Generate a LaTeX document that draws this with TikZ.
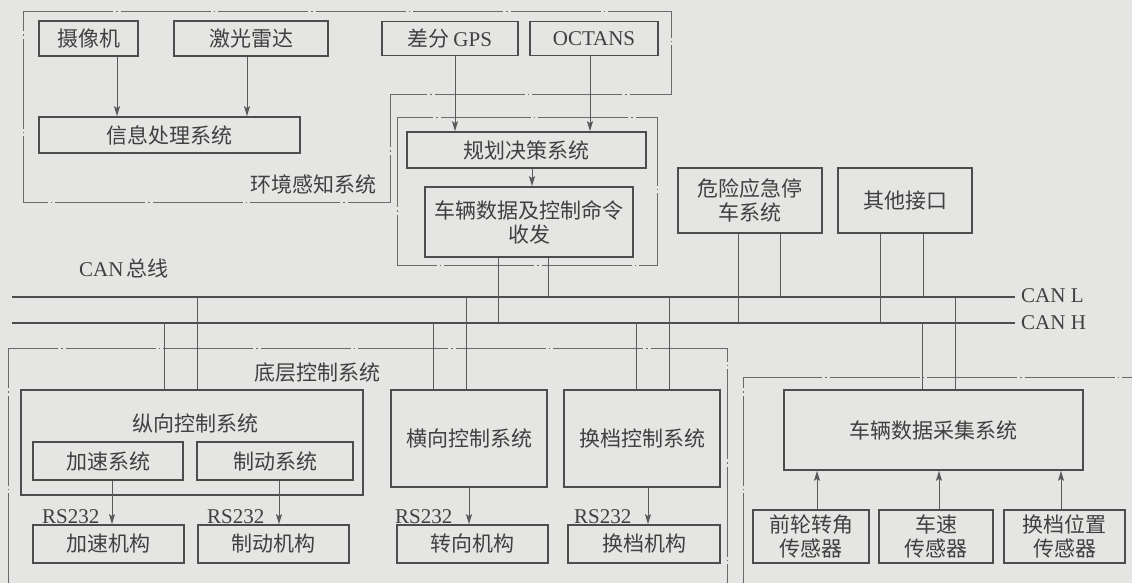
\documentclass[tikz,border=0pt]{standalone}
\usepackage{fontspec}
\setmainfont{Liberation Serif}
\newfontfamily\cjk{Noto Sans CJK SC}
\usetikzlibrary{arrows.meta}
\definecolor{bgc}{HTML}{E5E5E3}
\definecolor{boxc}{HTML}{4D4D4D}
\definecolor{linec}{HTML}{5A5A5A}
\definecolor{framec}{HTML}{6A6A6A}
\definecolor{txtc}{HTML}{404040}
\tikzset{
 box/.style={draw=boxc, line width=1.7pt, inner sep=0pt, align=center, text=txtc, font=\fontsize{21}{24}\selectfont\cjk},
 lbl/.style={inner sep=0pt, text=txtc, font=\fontsize{21}{24}\selectfont\cjk},
 latn/.style={inner sep=0pt, text=txtc, font=\fontsize{21}{23}\selectfont\rmfamily},
 conn/.style={draw=linec, line width=1pt},
 arr/.style={conn, -{Stealth[length=10pt,width=6pt,inset=2pt]}},
 bus/.style={draw=boxc, line width=1.7pt},
 frm/.style={draw=framec, line width=0.9pt, dash pattern=on 90pt off 3pt on 1.5pt off 3pt},
}
\begin{document}
\begin{tikzpicture}[x=1pt,y=-1pt]
\fill[bgc] (0,0) rectangle (1132,583);
\useasboundingbox (0,0) rectangle (1132,583);

% frames
\draw[frm] (23,11) -- (671,11) -- (671,94) -- (390,94) -- (390,202) -- (23,202) -- cycle;
\draw[frm] (397,117) rectangle (657,265);
\draw[frm] (8,583) -- (8,348) -- (727,348) -- (727,583);
\draw[frm] (743,583) -- (743,377) -- (1132,377);

% top row
\node[box, minimum width=99pt, minimum height=35pt] (cam) at (88.5,38.5) {摄像机};
\node[box, minimum width=154pt, minimum height=35pt] (lidar) at (251,38.5) {激光雷达};
\node[box, minimum width=136pt, minimum height=34pt] (gps) at (450,38.5) {差分\,{\rmfamily\fontsize{21}{23}\selectfont GPS}};
\node[box, minimum width=128pt, minimum height=34pt, font=\fontsize{21}{23}\selectfont\rmfamily] (octans) at (594,38.5) {OCTANS};
\node[box, minimum width=261pt, minimum height=36pt] (info) at (169.5,135) {信息处理系统};
\node[box, minimum width=239pt, minimum height=36pt] (plan) at (526.5,150) {规划决策系统};
\node[box, minimum width=208pt, minimum height=70pt] (vdata) at (529,222) {车辆数据及控制命令\\收发};
\node[box, minimum width=144pt, minimum height=65pt] (hazard) at (750,200.5) {危险应急停\\车系统};
\node[box, minimum width=134pt, minimum height=65pt] (other) at (905,200.5) {其他接口};

% labels
\node[lbl] (envlbl) at (313,184) {环境感知系统};
\node[latn] (canlbl) at (124,268) {CAN\,{\cjk\fontsize{21}{24}\selectfont 总线}};
\node[lbl] (botlbl) at (317,373) {底层控制系统};

% bus
\coordinate (canLw) at (12,297);
\coordinate (canLe) at (1015,297);
\coordinate (canHw) at (12,323);
\coordinate (canHe) at (1015,323);
\draw[bus] (canLw) -- (canLe);
\draw[bus] (canHw) -- (canHe);
\node[latn, anchor=west] (canLlbl) at (1021,296) {CAN L};
\node[latn, anchor=west] (canHlbl) at (1021,323) {CAN H};

% bottom
\node[box, minimum width=342pt, minimum height=105pt] (long) at (192,442.5) {};
\node[lbl] (longlbl) at (195,423) {纵向控制系统};
\node[box, minimum width=150pt, minimum height=38pt] (accsys) at (108,461) {加速系统};
\node[box, minimum width=156pt, minimum height=38pt] (brksys) at (275,461) {制动系统};
\node[box, minimum width=151pt, minimum height=38pt] (accm) at (108.5,544) {加速机构};
\node[box, minimum width=151pt, minimum height=38pt] (brkm) at (273.5,544) {制动机构};
\node[box, minimum width=156pt, minimum height=97pt] (lat) at (469,438.5) {横向控制系统};
\node[box, minimum width=156pt, minimum height=97pt] (shift) at (642,438.5) {换档控制系统};
\node[box, minimum width=151pt, minimum height=38pt] (steer) at (472.5,544) {转向机构};
\node[box, minimum width=152pt, minimum height=38pt] (shiftm) at (644,544) {换档机构};
\node[box, minimum width=299pt, minimum height=80pt] (dc) at (933.5,430) {车辆数据采集系统};
\node[box, minimum width=116pt, minimum height=53pt] (s1) at (811,536.5) {前轮转角\\传感器};
\node[box, minimum width=114pt, minimum height=53pt] (s2) at (936,536.5) {车速\\传感器};
\node[box, minimum width=121pt, minimum height=53pt] (s3) at (1064.5,536.5) {换档位置\\传感器};

\node[latn, anchor=base west] (rs1) at (42,523) {RS232};
\node[latn, anchor=base west] (rs2) at (207,523) {RS232};
\node[latn, anchor=base west] (rs3) at (395,523) {RS232};
\node[latn, anchor=base west] (rs4) at (574,523) {RS232};

% arrows
\draw[arr] (117,0 |- cam.south) -- (117,0 |- info.north);
\draw[arr] (247,0 |- lidar.south) -- (247,0 |- info.north);
\draw[arr] (455,0 |- gps.south) -- (455,0 |- plan.north);
\draw[arr] (590,0 |- octans.south) -- (590,0 |- plan.north);
\draw[arr] (532,0 |- plan.south) -- (532,0 |- vdata.north);
\draw[arr] (112,0 |- accsys.south) -- (112,0 |- accm.north);
\draw[arr] (279,0 |- brksys.south) -- (279,0 |- brkm.north);
\draw[arr] (469,0 |- lat.south) -- (469,0 |- steer.north);
\draw[arr] (648,0 |- shift.south) -- (648,0 |- shiftm.north);
\draw[arr] (817,0 |- s1.north) -- (817,0 |- dc.south);
\draw[arr] (939,0 |- s2.north) -- (939,0 |- dc.south);
\draw[arr] (1061,0 |- s3.north) -- (1061,0 |- dc.south);

% bus connections
\draw[conn] (498,0 |- vdata.south) -- (498,0 |- canHw);
\draw[conn] (548,0 |- vdata.south) -- (548,0 |- canLw);
\draw[conn] (738,0 |- hazard.south) -- (738,0 |- canHw);
\draw[conn] (780,0 |- hazard.south) -- (780,0 |- canLw);
\draw[conn] (880,0 |- other.south) -- (880,0 |- canHw);
\draw[conn] (923,0 |- other.south) -- (923,0 |- canLw);
\draw[conn] (164,0 |- long.north) -- (164,0 |- canHw);
\draw[conn] (197,0 |- long.north) -- (197,0 |- canLw);
\draw[conn] (433,0 |- lat.north) -- (433,0 |- canHw);
\draw[conn] (466,0 |- lat.north) -- (466,0 |- canLw);
\draw[conn] (636,0 |- shift.north) -- (636,0 |- canHw);
\draw[conn] (669,0 |- shift.north) -- (669,0 |- canLw);
\draw[conn] (922,0 |- dc.north) -- (922,0 |- canHw);
\draw[conn] (955,0 |- dc.north) -- (955,0 |- canLw);
\end{tikzpicture}
\end{document}
